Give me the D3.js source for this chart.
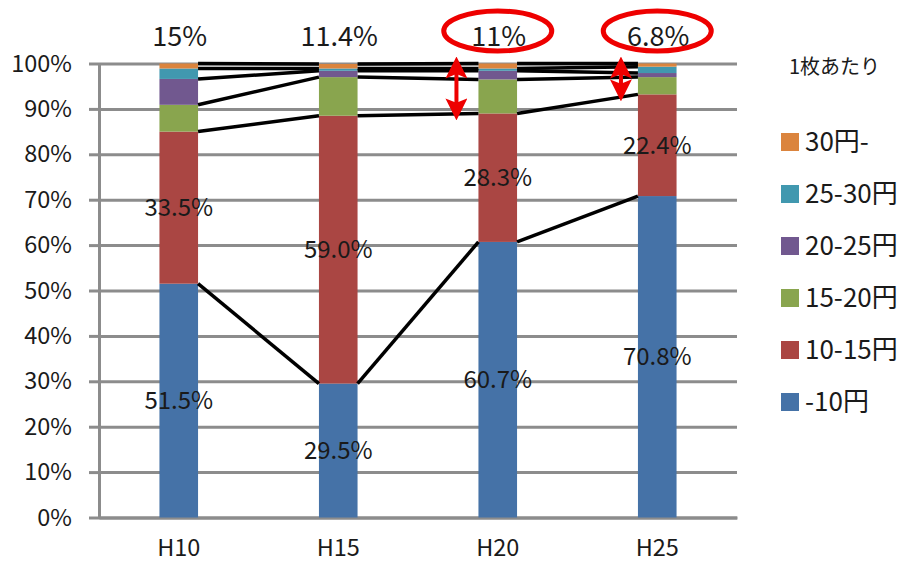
<!DOCTYPE html>
<html>
<head>
<meta charset="utf-8">
<script src="https://cdn.jsdelivr.net/npm/d3@7"></script>
<style>
  body { margin: 0; background: #fff; }
  svg { display: block; font-family: "Noto Sans CJK JP", Roboto, sans-serif; }
</style>
</head>
<body>
<svg id="chart" width="903" height="571"></svg>
<script>
// data (percent of sheets, by price per sheet)
var years = ["H10", "H15", "H20", "H25"];
var seriesNames = ["-10円", "10-15円", "15-20円", "20-25円", "25-30円", "30円-"];
var under10 = [51.5, 29.5, 60.7, 70.8];
var from10to15 = [33.5, 59.0, 28.3, 22.4];
var from15to20 = [5.9, 8.5, 7.5, 3.8];
var from20to25 = [5.7, 1.4, 1.9, 0.9];
var from25to30 = [2.3, 0.5, 0.5, 1.4];
var over30 = [1.1, 1.0, 1.1, 0.7];
var upperShare = ["15%", "11.4%", "11%", "6.8%"];   // share of 15円 and above
var yTicks = [0, 10, 20, 30, 40, 50, 60, 70, 80, 90, 100];
var colors = ["#4572A7", "#AA4643", "#89A54E", "#71588F", "#4198AF", "#DB843D"];

var svg = d3.select("#chart");

var rows = years.map(function(y, i) {
  return { year: y, s0: under10[i], s1: from10to15[i], s2: from15to20[i],
           s3: from20to25[i], s4: from25to30[i], s5: over30[i] };
});
var keys = ["s0", "s1", "s2", "s3", "s4", "s5"];
var stacked = d3.stack().keys(keys)(rows);

var x = d3.scaleBand().domain(years).range([99, 737])
    .paddingInner(0.758).paddingOuter(0.379);
var y = d3.scaleLinear().domain([0, 100]).range([517.5, 63.5]);

// gridlines
svg.append("g")
    .attr("transform", "translate(99,0)")
    .call(d3.axisLeft(y).tickValues(yTicks).tickSize(-(737 - 99)).tickFormat(""))
    .call(function(g) { g.select(".domain").remove(); })
    .selectAll("line").attr("stroke", "#8c8c8c").attr("stroke-width", 3);

// y axis with short outside ticks
var yAxis = svg.append("g")
    .attr("transform", "translate(99,0)")
    .call(d3.axisLeft(y).tickValues(yTicks).tickSize(10).tickSizeOuter(0).tickPadding(17)
          .tickFormat(function(d) { return d + "%"; }));
yAxis.select(".domain").attr("stroke", "#8c8c8c").attr("stroke-width", 3);
yAxis.selectAll("line").attr("stroke", "#8c8c8c").attr("stroke-width", 3);
yAxis.selectAll("text").attr("font-size", 23.5).attr("fill", "#1a1a1a")
    .attr("font-family", "'Noto Sans CJK JP', sans-serif");

// x axis labels
var xAxis = svg.append("g")
    .attr("transform", "translate(0,517.5)")
    .call(d3.axisBottom(x).tickSize(0).tickPadding(22));
xAxis.select(".domain").attr("stroke", "#8c8c8c").attr("stroke-width", 3);
xAxis.selectAll("text").attr("font-size", 23.5).attr("fill", "#1a1a1a")
    .attr("font-family", "'Noto Sans CJK JP', sans-serif");

// bars
var layer = svg.append("g").selectAll("g")
  .data(stacked)
  .enter().append("g")
    .attr("fill", function(d, i) { return colors[i]; });

layer.selectAll("rect")
  .data(function(d) { return d; })
  .enter().append("rect")
    .attr("x", function(d) { return x(d.data.year); })
    .attr("width", x.bandwidth())
    .attr("y", function(d) { return y(d[1]); })
    .attr("height", function(d) { return y(d[0]) - y(d[1]); });

// series lines between bars
var seriesLines = svg.append("g");
stacked.forEach(function(s) {
  for (var i = 0; i < years.length - 1; i++) {
    seriesLines.append("line")
        .attr("x1", x(years[i]) + x.bandwidth())
        .attr("x2", x(years[i + 1]))
        .attr("y1", y(s[i][1]))
        .attr("y2", y(s[i + 1][1]))
        .attr("stroke", "#000")
        .attr("stroke-width", 3.5);
  }
});

// data labels on the two lower series
stacked.slice(0, 2).forEach(function(s) {
  svg.append("g").selectAll("text")
    .data(s)
    .enter().append("text")
      .attr("x", function(d) { return x(d.data.year) + x.bandwidth() / 2; })
      .attr("y", function(d) { return y((d[0] + d[1]) / 2); })
      .attr("dy", "0.36em")
      .attr("text-anchor", "middle")
      .attr("font-size", 24)
      .attr("fill", "#1a1a1a")
      .text(function(d) { return (d[1] - d[0]).toFixed(1) + "%"; });
});

// totals above the bars
svg.append("g").selectAll("text")
  .data(years)
  .enter().append("text")
    .attr("x", function(d) { return x(d) + x.bandwidth() / 2 + 1; })
    .attr("y", 46)
    .attr("text-anchor", "middle")
    .attr("font-size", 27)
    .attr("fill", "#1a1a1a")
    .text(function(d, i) { return upperShare[i]; });

// red highlights
var red = "#ee0000";
[2, 3].forEach(function(i) {
  svg.append("ellipse")
      .attr("cx", x(years[i]) + x.bandwidth() / 2)
      .attr("cy", 31)
      .attr("rx", 54)
      .attr("ry", 20)
      .attr("fill", "none")
      .attr("stroke", red)
      .attr("stroke-width", 5);
});

var defs = svg.append("defs");
defs.append("marker")
    .attr("id", "head")
    .attr("viewBox", "0 0 10 10")
    .attr("refX", 5).attr("refY", 5)
    .attr("markerWidth", 5.5).attr("markerHeight", 5.5)
    .attr("orient", "auto-start-reverse")
    .append("path").attr("d", "M0,0 L10,5 L0,10 L2,5 Z").attr("fill", red);

[[2, 22], [3, 17]].forEach(function(p) {
  var i = p[0];
  var ax = x(years[i]) - p[1];
  svg.append("line")
      .attr("x1", ax).attr("x2", ax)
      .attr("y1", y(100) + 4)
      .attr("y2", y(under10[i] + from10to15[i]) - 4)
      .attr("stroke", red)
      .attr("stroke-width", 4)
      .attr("marker-start", "url(#head)")
      .attr("marker-end", "url(#head)");
});

// legend
var legend = svg.append("g");
legend.append("text")
    .attr("x", 789).attr("y", 74)
    .attr("font-size", 20)
    .attr("fill", "#1a1a1a")
    .text("1枚あたり");

var items = legend.selectAll("g.item")
  .data(seriesNames.slice().reverse())
  .enter().append("g")
    .attr("class", "item")
    .attr("transform", function(d, i) { return "translate(781," + (142 + i * 52) + ")"; });

items.append("rect")
    .attr("x", 0).attr("y", -9)
    .attr("width", 18).attr("height", 18)
    .attr("fill", function(d, i) { return colors[colors.length - 1 - i]; });

items.append("text")
    .attr("x", 24).attr("y", 0)
    .attr("dy", "0.36em")
    .attr("font-size", 26)
    .attr("fill", "#1a1a1a")
    .text(function(d) { return d; });
</script>
</body>
</html>
